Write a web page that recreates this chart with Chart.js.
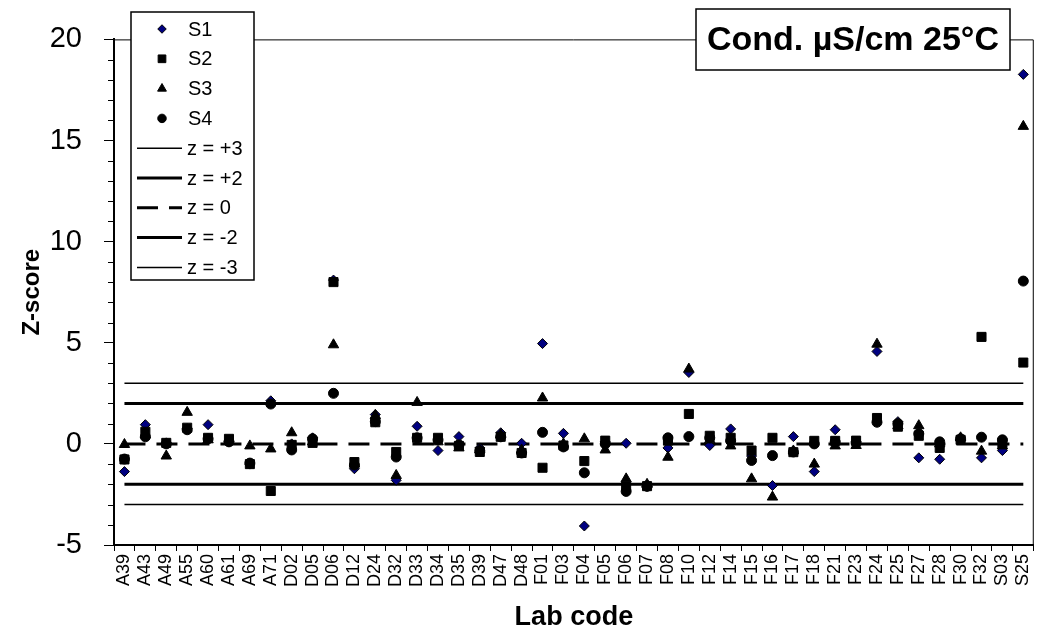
<!DOCTYPE html>
<html>
<head>
<meta charset="utf-8">
<title>Z-score Cond. µS/cm 25°C</title>
<script src="https://cdn.jsdelivr.net/npm/chart.js@4.4.1/dist/chart.umd.min.js"></script>
<style>
  html, body { margin: 0; padding: 0; background: #fff; }
  #wrap { position: relative; width: 1048px; height: 637px; }
</style>
</head>
<body>
<div id="wrap"><canvas id="zChart" width="1048" height="637"></canvas></div>
<script>
const labCodes = ["A39", "A43", "A49", "A55", "A60", "A61", "A69", "A71", "D02", "D05",
  "D06", "D12", "D24", "D32", "D33", "D34", "D35", "D39", "D47", "D48",
  "F01", "F03", "F04", "F05", "F06", "F07", "F08", "F10", "F12", "F14",
  "F15", "F16", "F17", "F18", "F21", "F23", "F24", "F25", "F27", "F28",
  "F30", "F32", "S03", "S25"];

const s1 = [-1.37, 0.95, 0.05, 0.75, 0.95, 0.1, -1.0, 2.13, 0.0, 0.3,
  8.1, -1.23, 1.45, -1.8, 0.87, -0.33, 0.36, -0.2, 0.55, 0.03,
  4.96, 0.52, -4.06, 0.1, 0.03, -2.1, -0.2, 3.53, -0.08, 0.74,
  -0.6, -2.06, 0.36, -1.37, 0.7, 0.1, 4.57, 1.1, -0.69, -0.76,
  0.2, -0.69, -0.33, 18.27];
const s2 = [-0.77, 0.6, 0.05, 0.8, 0.3, 0.25, -1.0, -2.33, -0.05, 0.05,
  8.0, -0.9, 1.07, -0.4, 0.3, 0.3, -0.1, -0.4, 0.35, -0.45,
  -1.18, -0.08, -0.85, 0.16, -2.1, -2.09, 0.16, 1.48, 0.4, 0.3,
  -0.33, 0.3, -0.41, 0.15, 0.15, 0.16, 1.28, 0.85, 0.4, -0.2,
  0.2, 5.29, 0.05, 4.02];
const s3 = [-0.03, 0.45, -0.6, 1.56, 0.2, 0.15, -0.1, -0.25, 0.55, 0.1,
  4.9, -1.0, 1.4, -1.56, 2.05, 0.1, -0.2, -0.3, 0.45, -0.3,
  2.27, 0.0, 0.25, -0.3, -1.73, -2.0, -0.66, 3.7, 0.2, -0.1,
  -1.73, -2.63, -0.35, -1.0, -0.1, -0.08, 4.93, 0.9, 0.9, 0.0,
  0.3, -0.36, -0.1, 15.7];
const s4 = [-0.75, 0.35, 0.0, 0.7, 0.25, 0.1, -0.95, 1.97, -0.3, 0.25,
  2.5, -1.05, 1.1, -0.65, 0.3, 0.2, -0.05, -0.35, 0.35, -0.45,
  0.57, -0.15, -1.43, 0.0, -2.35, -2.1, 0.3, 0.36, 0.3, 0.15,
  -0.82, -0.58, -0.4, 0.0, 0.1, 0.05, 1.07, 1.0, 0.5, 0.1,
  0.25, 0.33, 0.2, 8.05];

const limitValues = [3, 2, 0, -2, -3];
const limitNames = ["z = +3", "z = +2", "z = 0", "z = -2", "z = -3"];
const yMin = -5, yMax = 20, yStep = 5;

const FONT = "'Liberation Sans', Arial, Helvetica, sans-serif";

function pointSet(label, data, style, radius, fill, order) {
  return {
    type: 'line', label: label, data: data, showLine: false,
    pointStyle: style, pointRadius: radius, pointHoverRadius: radius,
    backgroundColor: fill, borderColor: '#000', pointBorderWidth: 1,
    order: order
  };
}

function limitSet(i) {
  const v = limitValues[i];
  const heavy = Math.abs(v) === 2 || v === 0;
  return {
    type: 'line', label: limitNames[i],
    data: [{ x: labCodes[0], y: v }, { x: labCodes[labCodes.length - 1], y: v }],
    borderColor: '#000', borderWidth: heavy ? 3 : 1.5,
    borderDash: v === 0 ? [21, 11] : [],
    pointRadius: 0, fill: false, order: 10
  };
}

const datasets = [
  pointSet('S1', s1, 'rectRot', 5, '#000080', 4),
  pointSet('S2', s2, 'rect', 6.4, '#000', 3),
  pointSet('S3', s3, 'triangle', 6, '#000', 2),
  pointSet('S4', s4, 'circle', 5, '#000', 1)
];
limitValues.forEach((v, i) => datasets.push(limitSet(i)));

function drawMarker(ctx, style, r, fill, x, y) {
  ctx.save();
  ctx.fillStyle = fill;
  ctx.strokeStyle = '#000';
  ctx.lineWidth = 1;
  if (Chart.helpers && Chart.helpers.drawPoint) {
    Chart.helpers.drawPoint(ctx, { pointStyle: style, radius: r, rotation: 0, borderWidth: 1 }, x, y);
  }
  ctx.restore();
}

const framePlugin = {
  id: 'frame',
  afterDraw(chart) {
    const ctx = chart.ctx;
    const area = chart.chartArea;
    const yScale = chart.scales.y;

    ctx.save();
    // top and right frame of the plot area
    ctx.strokeStyle = '#000';
    ctx.lineWidth = 1;
    ctx.beginPath();
    ctx.moveTo(area.left, area.top + 0.5);
    ctx.lineTo(area.right - 0.5, area.top + 0.5);
    ctx.lineTo(area.right - 0.5, area.bottom);
    ctx.stroke();

    // minor ticks on y axis
    ctx.beginPath();
    for (let v = yMin; v <= yMax; v++) {
      if (v % yStep === 0) continue;
      const py = Math.round(yScale.getPixelForValue(v)) + 0.5;
      ctx.moveTo(area.left - 6, py);
      ctx.lineTo(area.left, py);
    }
    ctx.stroke();

    // legend box
    const lx = 131, ly = 12, lw = 123, lh = 268, rowH = 29.8;
    ctx.fillStyle = '#fff';
    ctx.fillRect(lx, ly, lw, lh);
    ctx.lineWidth = 1.5;
    ctx.strokeRect(lx, ly, lw, lh);
    ctx.font = '20px ' + FONT;
    ctx.textBaseline = 'middle';
    ctx.textAlign = 'left';
    chart.data.datasets.forEach((ds, i) => {
      const cy = ly + 17 + i * rowH;
      if (ds.showLine === false) {
        drawMarker(ctx, ds.pointStyle, ds.pointRadius * 0.85, ds.backgroundColor, lx + 31, cy);
        ctx.fillStyle = '#000';
        ctx.fillText(ds.label, lx + 57, cy + 1);
      } else {
        ctx.save();
        ctx.strokeStyle = '#000';
        ctx.lineWidth = ds.borderWidth;
        ctx.setLineDash(ds.borderDash);
        ctx.beginPath();
        ctx.moveTo(lx + 6, cy);
        ctx.lineTo(lx + 51, cy);
        ctx.stroke();
        ctx.restore();
        ctx.fillStyle = '#000';
        ctx.fillText(ds.label, lx + 56, cy + 1);
      }
    });

    // title box
    const tx = 696, ty = 9, tw = 314, th = 61;
    ctx.fillStyle = '#fff';
    ctx.fillRect(tx, ty, tw, th);
    ctx.lineWidth = 1.5;
    ctx.strokeStyle = '#000';
    ctx.strokeRect(tx, ty, tw, th);
    ctx.fillStyle = '#000';
    ctx.font = 'bold 34px ' + FONT;
    ctx.textAlign = 'center';
    ctx.fillText('Cond. µS/cm 25°C', tx + tw / 2, ty + th / 2 + 1);
    ctx.restore();
  }
};

new Chart(document.getElementById('zChart'), {
  data: { labels: labCodes, datasets: datasets },
  options: {
    responsive: false,
    animation: false,
    devicePixelRatio: 1,
    layout: { padding: { top: 38, right: 1.5, left: 0, bottom: 0 } },
    plugins: { legend: { display: false }, tooltip: { enabled: false } },
    scales: {
      x: {
        type: 'category',
        offset: true,
        grid: { offset: true, drawOnChartArea: false, drawTicks: true, tickLength: 6, color: '#000' },
        border: { display: true, color: '#000', width: 2 },
        ticks: {
          autoSkip: false, maxRotation: 90, minRotation: 90, padding: 3,
          color: '#000', font: { family: FONT, size: 18 }
        },
        title: {
          display: true, text: 'Lab code', color: '#000',
          font: { family: FONT, size: 27, weight: 'bold' },
          padding: { top: 0, bottom: 3 }
        },
        afterFit(scale) { scale.height = 92; }
      },
      y: {
        min: yMin, max: yMax,
        grid: { drawOnChartArea: false, drawTicks: true, tickLength: 10, color: '#000' },
        border: { display: true, color: '#000', width: 2 },
        ticks: {
          stepSize: yStep, padding: 22, color: '#000',
          font: { family: FONT, size: 29 }
        },
        title: {
          display: true, text: 'Z-score', color: '#000',
          font: { family: FONT, size: 24, weight: 'bold' },
          padding: { top: 18, bottom: 0 }
        },
        afterFit(scale) { scale.width = 114; }
      }
    }
  },
  plugins: [framePlugin]
});
</script>
</body>
</html>
